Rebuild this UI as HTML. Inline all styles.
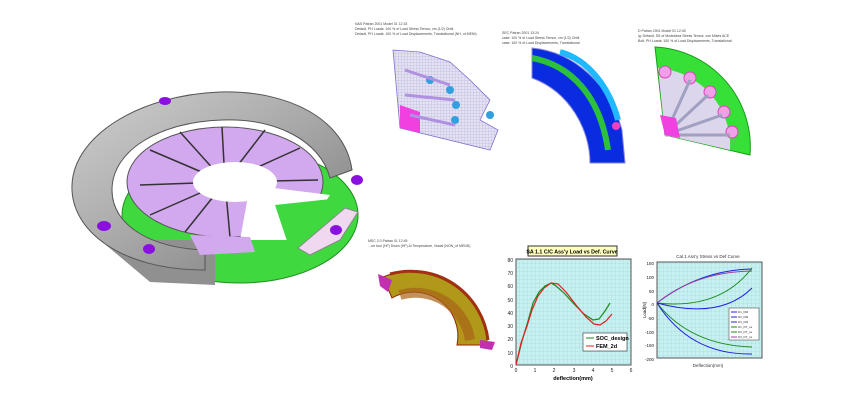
<!DOCTYPE html>
<html><head><meta charset="utf-8"><style>
html,body{margin:0;padding:0;background:#fff;}
svg{display:block}
text{font-family:"Liberation Sans",sans-serif;}
</style></head><body>
<svg width="867" height="410" viewBox="0 0 867 410" xmlns="http://www.w3.org/2000/svg">
<defs>
<pattern id="grid" width="4" height="4" patternUnits="userSpaceOnUse"><rect width="4" height="4" fill="#c8f0f0"/><path d="M4 0V4M0 4H4" stroke="#8fd4d4" stroke-width="0.5"/></pattern>
<pattern id="mesh" width="3" height="3" patternUnits="userSpaceOnUse"><rect width="3" height="3" fill="#e4e2f2"/><path d="M3 0V3M0 3H3" stroke="#a9a6d6" stroke-width="0.5"/></pattern>
<linearGradient id="gr" x1="0" y1="0" x2="1" y2="1"><stop offset="0" stop-color="#d0d0d0"/><stop offset="0.5" stop-color="#a8a8a8"/><stop offset="1" stop-color="#7a7a7a"/></linearGradient>
</defs>

<!-- Clutch -->
<ellipse cx="240" cy="215" rx="118" ry="68" fill="#3fd83f" stroke="#1f8f1f"/>
<path d="M100 240 L150 282 L215 285 L215 240 Z" fill="#909090"/>
<path d="M205 270 C120 270 70 230 72 185 C74 135 140 95 220 92 C290 90 345 120 352 170 L330 178 C320 140 275 118 222 120 C160 122 112 150 112 190 C112 225 150 248 205 250 Z" fill="url(#gr)" stroke="#555" stroke-width="1"/>
<ellipse cx="225" cy="182" rx="98" ry="55" fill="#d2a8ee" stroke="#555"/>
<g stroke="#333" stroke-width="1.5">
<line x1="225" y1="182" x2="150" y2="150"/><line x1="225" y1="182" x2="180" y2="132"/><line x1="225" y1="182" x2="222" y2="127"/><line x1="225" y1="182" x2="265" y2="130"/><line x1="225" y1="182" x2="300" y2="148"/><line x1="225" y1="182" x2="318" y2="180"/><line x1="225" y1="182" x2="140" y2="185"/><line x1="225" y1="182" x2="150" y2="215"/><line x1="225" y1="182" x2="185" y2="232"/><line x1="225" y1="182" x2="230" y2="237"/>
</g>
<ellipse cx="235" cy="182" rx="42" ry="20" fill="#fff"/>
<path d="M250 185 L330 195 L300 240 L240 240 Z" fill="#fff"/>
<path d="M275 205 L340 198 L340 240 L290 250 Z" fill="#3fd83f"/>
<path d="M298 248 L345 208 L358 212 L340 240 L310 255 Z" fill="#f0d8f0" stroke="#888"/>
<path d="M190 235 L250 237 L255 252 L200 255 Z" fill="#d2a8ee"/>
<g fill="#8a10e0"><ellipse cx="165" cy="101" rx="6" ry="4"/><ellipse cx="104" cy="226" rx="7" ry="5"/><ellipse cx="149" cy="249" rx="6" ry="5"/><ellipse cx="357" cy="180" rx="6" ry="5"/><ellipse cx="336" cy="230" rx="6" ry="5"/></g>

<!-- top text -->
<g font-size="3.5" fill="#444">
<text x="355" y="25">NAS Patran 2001 Model 01 12:15</text><text x="355" y="30">Default, PH Loads: 100 % of Load Stress Tensor, vm (1/2) Orbit</text><text x="355" y="35">Default, PH Loads: 100 % of Load Displacements, Translational (NH, of MENI)</text>
<text x="502" y="34">SEC Patran 2001 13:24</text><text x="502" y="39">case: 100 % of Load Stress Tensor, vm (1/2) Orbit</text><text x="502" y="44">case: 100 % of Load Displacements, Translational</text>
<text x="638" y="32">D Patran 2001 Model 01 12:45</text><text x="638" y="37">ig: Default, SS of Modstress Stress Tensor, von Mises ACE</text><text x="638" y="42">Bolt, PH Loads: 100 % of Load Displacements, Translational</text>
<text x="368" y="242">MSC 2.0 Patran 01 12:45</text><text x="368" y="247">...urr tool (HF) Down (HF) Al Temperature, Nodal (NON_of MEND)</text>
</g>

<!-- fan1 -->
<path d="M393 50 L400 128 L490 150 L498 130 L480 120 L490 100 L470 80 L450 62 L420 52 Z" fill="url(#mesh)" stroke="#8070d0" stroke-width="0.8"/>
<path d="M400 105 L400 128 L420 133 L420 112 Z" fill="#f040e0"/>
<g fill="#30a0e0"><circle cx="430" cy="80" r="4"/><circle cx="450" cy="90" r="4"/><circle cx="456" cy="105" r="4"/><circle cx="455" cy="120" r="4"/><circle cx="490" cy="115" r="4"/></g>
<path d="M405 70 L450 85 M405 95 L455 100 M410 115 L455 125" stroke="#b090e0" stroke-width="3"/>
<!-- fan2 -->
<path d="M532 48 C575 52 610 85 622 130 L625 163 L590 163 C590 130 570 92 532 78 Z" fill="#0a2ce0" stroke="#8888dd"/>
<path d="M532 58 C570 65 600 95 608 150" stroke="#2cc03c" stroke-width="6" fill="none"/>
<path d="M560 52 C590 60 610 90 618 120" stroke="#20b8ff" stroke-width="6" fill="none"/>
<circle cx="616" cy="126" r="4" fill="#f040c0"/>
<!-- fan3 -->
<path d="M655 47 A100 100 0 0 1 750 155 L665 135 Z" fill="#36e036" stroke="#1a9a1a"/>
<path d="M658 68 A78 78 0 0 1 730 150 L665 135 Z" fill="#dcd6ec"/>
<g fill="#f0a0e8" stroke="#e040c0"><circle cx="665" cy="72" r="6"/><circle cx="690" cy="78" r="6"/><circle cx="710" cy="92" r="6"/><circle cx="724" cy="112" r="6"/><circle cx="732" cy="132" r="6"/></g>
<path d="M665 135 L690 80 M665 135 L708 95 M665 135 L722 115 M665 135 L730 135" stroke="#a0a0c0" stroke-width="3"/>
<path d="M660 115 L665 135 L680 138 L676 118 Z" fill="#f040e0"/>

<!-- bottom-left fan -->
<path d="M383 277 A74 74 0 0 1 487 345 L457 345 A44 44 0 0 0 392 298 Z" fill="#b09818" stroke="#9a2010"/>
<path d="M390 274 A78 78 0 0 1 488 340" stroke="#a03010" stroke-width="3" fill="none"/>
<path d="M400 295 A55 55 0 0 1 470 340" stroke="#a86418" stroke-width="10" fill="none" opacity="0.7"/>
<path d="M378 274 L392 280 L388 292 L380 286 Z" fill="#c030b0"/>
<path d="M480 340 L495 342 L492 350 L480 348 Z" fill="#c030b0"/>

<!-- chart 1 -->
<rect x="528" y="246" width="89" height="10" fill="#ffffc0" stroke="#333"/>
<text x="572" y="253.5" font-size="5.3" font-weight="bold" text-anchor="middle">SA 1.1 C/C Ass'y Load vs Def. Curve</text>
<rect x="516" y="259" width="115" height="106" fill="url(#grid)" stroke="#555"/>
<g font-size="5" text-anchor="end" fill="#222">
<text x="513" y="262">80</text><text x="513" y="275">70</text><text x="513" y="288">60</text><text x="513" y="302">50</text><text x="513" y="315">40</text><text x="513" y="328">30</text><text x="513" y="341">20</text><text x="513" y="355">10</text><text x="513" y="368">0</text>
</g>
<g font-size="5" text-anchor="middle" fill="#222"><text x="516" y="372">0</text><text x="535" y="372">1</text><text x="554" y="372">2</text><text x="574" y="372">3</text><text x="593" y="372">4</text><text x="612" y="372">5</text><text x="631" y="372">6</text></g>
<text x="573" y="380" font-size="5.5" font-weight="bold" text-anchor="middle">deflection(mm)</text>
<polyline fill="none" stroke="#1a8a1a" stroke-width="1.2" points="516,365 522,341 528,321 533,303 539,292 545,286 551,283 556,286 564,293 574,304 584,314 593,320 599,319 605,311 610,303"/>
<polyline fill="none" stroke="#e02020" stroke-width="1.2" points="516,365 521,343 527,326 532,310 538,296 544,288 551,283 558,284 566,292 576,305 586,317 594,324 600,325 606,321 612,314"/>
<rect x="583" y="333" width="44" height="18" fill="#fff" stroke="#333" stroke-width="0.6"/>
<line x1="586" y1="338" x2="594" y2="338" stroke="#1a8a1a"/><line x1="586" y1="346" x2="594" y2="346" stroke="#e02020"/>
<text x="596" y="340" font-size="5.5" font-weight="bold">SOC_design</text><text x="596" y="348" font-size="5.5" font-weight="bold">FEM_2d</text>

<!-- chart 2 -->
<text x="708" y="258" font-size="4.5" text-anchor="middle" fill="#333">Cal.1 Ass'y Stress vs Def Curve</text>
<rect x="657" y="262" width="105" height="96" fill="url(#grid)" stroke="#555"/>
<g font-size="4.5" text-anchor="end" fill="#222">
<text x="654" y="265">150</text><text x="654" y="279">100</text><text x="654" y="293">50</text><text x="654" y="306">0</text><text x="654" y="320">-50</text><text x="654" y="334">-100</text><text x="654" y="347">-150</text><text x="654" y="361">-200</text>
</g>
<text x="708" y="367" font-size="4.5" text-anchor="middle" fill="#333">Deflection(mm)</text>
<text x="646" y="310" font-size="4.5" transform="rotate(-90 646 310)" text-anchor="middle">Load(N)</text>
<g fill="none" stroke-width="1">
<path d="M657 303 Q700 270 752 269" stroke="#2020e0"/>
<path d="M657 303 Q695 272 752 271" stroke="#a040a0"/>
<path d="M657 303 Q720 310 752 268" stroke="#1a8a1a"/>
<path d="M657 303 Q720 320 752 288" stroke="#2020e0"/>
<path d="M657 303 Q690 345 752 347" stroke="#1a8a1a"/>
<path d="M657 303 Q690 355 752 354" stroke="#2020e0"/>
</g>
<rect x="729" y="308" width="30" height="32" fill="#fff" stroke="#333" stroke-width="0.5"/>
<g font-size="3" fill="#333"><text x="738" y="313">D1_DM</text><text x="738" y="318">D2_DM</text><text x="738" y="323">D3_DM</text><text x="738" y="328">D1_DT_ss</text><text x="738" y="333">D2_DT_ss</text><text x="738" y="338">D3_DT_ss</text></g>
<g stroke-width="1"><line x1="731" y1="312" x2="737" y2="312" stroke="#2020e0"/><line x1="731" y1="317" x2="737" y2="317" stroke="#2020e0"/><line x1="731" y1="322" x2="737" y2="322" stroke="#2020e0"/><line x1="731" y1="327" x2="737" y2="327" stroke="#1a8a1a"/><line x1="731" y1="332" x2="737" y2="332" stroke="#1a8a1a"/><line x1="731" y1="337" x2="737" y2="337" stroke="#a040a0"/></g>
</svg>
</body></html>
